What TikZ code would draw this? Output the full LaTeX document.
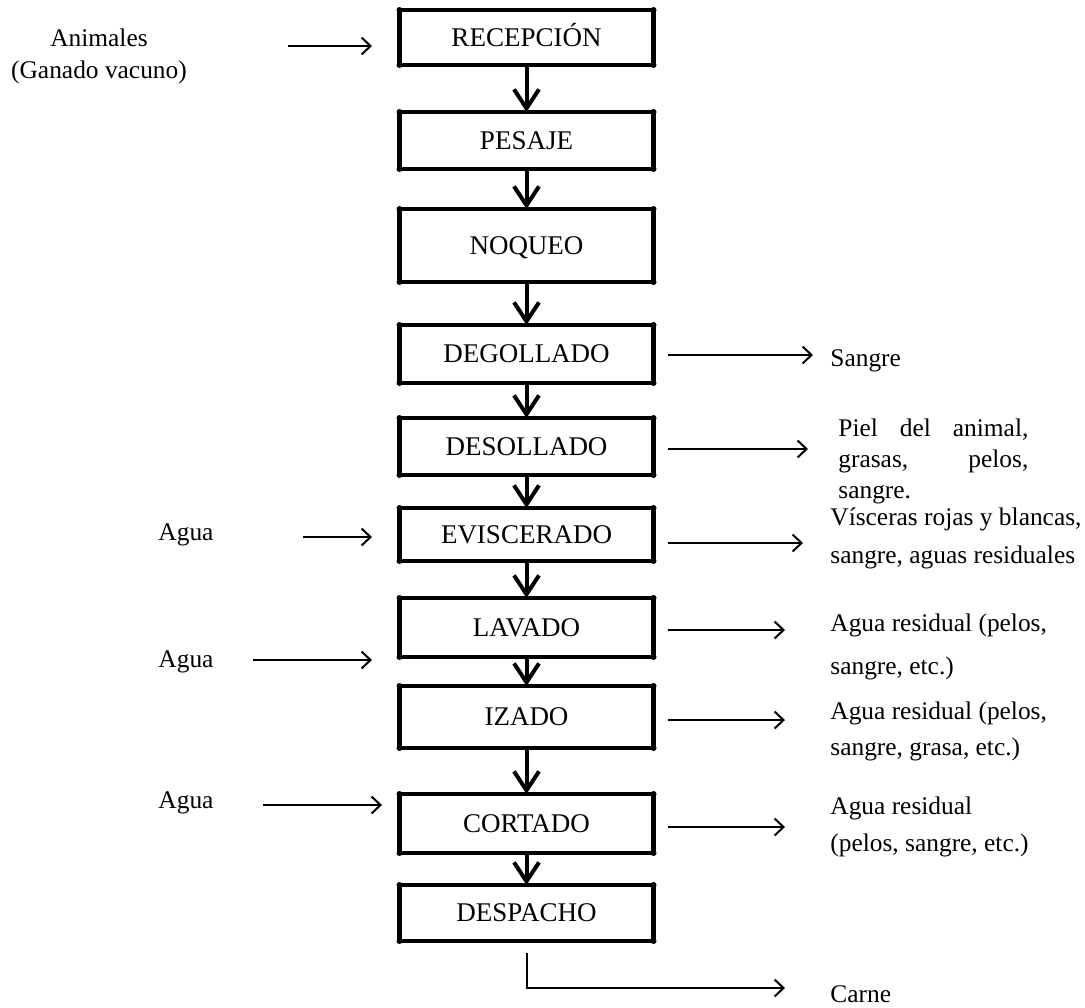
\documentclass[tikz,border=0pt]{standalone}
\usepackage{fontspec}
\setmainfont{Liberation Serif}
\usetikzlibrary{arrows.meta,positioning}

\tikzset{
  etapa/.style={draw, line width=2.2pt, minimum width=127pt, inner sep=0pt, outer sep=0pt,
    text height=8.8pt, text depth=0pt, font=\fontsize{13.5}{15}\selectfont},
  flujo/.style={-{Straight Barb[length=9.5pt,width=12.5pt]}, line width=2pt},
  lado/.style={-{Straight Barb[length=4.5pt,width=8.5pt]}, line width=1pt},
  nota/.style={inner sep=0pt, align=left, font=\fontsize{12.7}{#1}\selectfont},
  nota/.default=18pt
}

\begin{document}
\begin{tikzpicture}[x=0.5pt,y=-0.5pt]
    \useasboundingbox (0,0) rectangle (1085,1007);
    % etapas del proceso
    \node (recepcion) [etapa, minimum height=27.5pt] at (526.5,37.5) {RECEPCIÓN};
    \node (pesaje) [etapa, minimum height=28.5pt, node distance=51.5pt, below of=recepcion] {PESAJE};
    \node (noqueo) [etapa, minimum height=36.5pt, node distance=52.5pt, below of=pesaje] {NOQUEO};
    \node (degollado) [etapa, minimum height=29pt, node distance=54.25pt, below of=noqueo] {DEGOLLADO};
    \node (desollado) [etapa, minimum height=28.5pt, node distance=46.25pt, below of=degollado] {DESOLLADO};
    \node (eviscerado) [etapa, minimum height=26.5pt, node distance=44pt, below of=desollado] {EVISCERADO};
    \node (lavado) [etapa, minimum height=29.5pt, node distance=46.5pt, below of=eviscerado] {LAVADO};
    \node (izado) [etapa, minimum height=31pt, node distance=44.75pt, below of=lavado] {IZADO};
    \node (cortado) [etapa, minimum height=29.5pt, node distance=53.25pt, below of=izado] {CORTADO};
    \node (despacho) [etapa, minimum height=28pt, node distance=44.75pt, below of=cortado] {DESPACHO};
    % puntos en las esquinas
    \foreach \n in {recepcion, pesaje, noqueo, degollado, desollado, eviscerado, lavado, izado, cortado, despacho}
      \foreach \c in {north west, north east, south west, south east}
        \fill (\n.\c) circle (1.5pt);
    \foreach \a/\b in {recepcion/pesaje, pesaje/noqueo, noqueo/degollado, degollado/desollado,
        desollado/eviscerado, eviscerado/lavado, lavado/izado, izado/cortado, cortado/despacho}
      \draw[flujo] (\a) -- (\b);

    % entradas
    \node (animales) [nota=16pt, align=center] at (99,56) {Animales\\(Ganado vacuno)};
    \node (agua1) [nota] at (186,535) {Agua};
    \node (agua2) [nota] at (186,662) {Agua};
    \node (agua3) [nota] at (186,803) {Agua};
    \coordinate (ani-s) at (288,46);  \coordinate (ani-e) at (372,46);
    \coordinate (ag1-s) at (303,537); \coordinate (ag1-e) at (372,537);
    \coordinate (ag2-s) at (253,660); \coordinate (ag2-e) at (372,660);
    \coordinate (ag3-s) at (263,805); \coordinate (ag3-e) at (382,805);
    \draw[lado] (ani-s) -- (ani-e);
    \draw[lado] (ag1-s) -- (ag1-e);
    \draw[lado] (ag2-s) -- (ag2-e);
    \draw[lado] (ag3-s) -- (ag3-e);

    % salidas
    \node (sangre) [nota, anchor=west] at (830,361) {Sangre};
    \node (piel) [nota=15.5pt, anchor=west] at (838,461)
      {\makebox[95pt][s]{Piel del animal,}\\\makebox[95pt][s]{grasas, pelos,}\\sangre.};
    \node (visceras) [nota=19pt, anchor=west] at (830,538) {Vísceras rojas y blancas,\\sangre, aguas residuales};
    \node (resid1) [nota=21.5pt, anchor=west] at (830,646.5) {Agua residual (pelos,\\sangre, etc.)};
    \node (resid2) [nota=18pt, anchor=west] at (830,731) {Agua residual (pelos,\\sangre, grasa, etc.)};
    \node (resid3) [nota=18.5pt, anchor=west] at (830,826.5) {Agua residual\\(pelos, sangre, etc.)};
    \node (carne) [nota, anchor=west] at (830,994) {Carne};
    \coordinate (sang-e) at (813,355);
    \coordinate (piel-e) at (808,449);
    \coordinate (visc-e) at (803,543);
    \coordinate (res1-e) at (785,630);
    \coordinate (res2-e) at (785,720);
    \coordinate (res3-e) at (785,827);
    \coordinate (carne-e) at (785,988);
    \draw[lado] ([xshift=7pt]degollado.east |- sang-e) -- (sang-e);
    \draw[lado] ([xshift=7pt]desollado.east |- piel-e) -- (piel-e);
    \draw[lado] ([xshift=7pt]eviscerado.east |- visc-e) -- (visc-e);
    \draw[lado] ([xshift=7pt]lavado.east |- res1-e) -- (res1-e);
    \draw[lado] ([xshift=7pt]izado.east |- res2-e) -- (res2-e);
    \draw[lado] ([xshift=7pt]cortado.east |- res3-e) -- (res3-e);
    \draw[lado] ([yshift=-6pt]despacho.south) |- (carne-e);
\end{tikzpicture}
\end{document}
